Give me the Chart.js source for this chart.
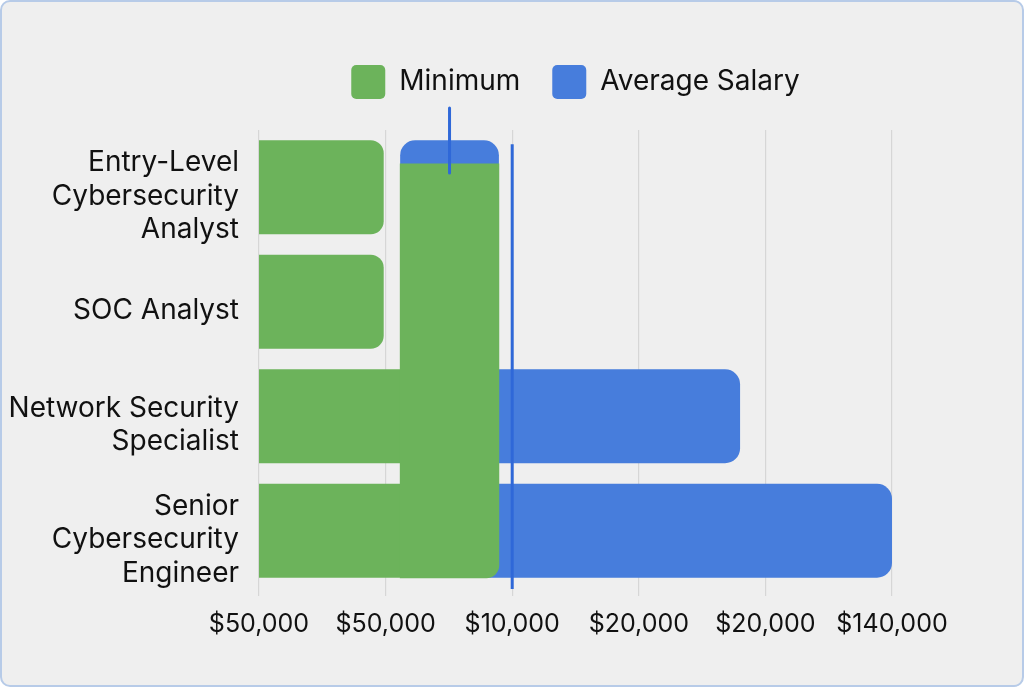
<!DOCTYPE html>
<html>
<head>
<meta charset="utf-8">
<script src="https://cdn.jsdelivr.net/npm/chart.js@4.4.1/dist/chart.umd.min.js"></script>
<style>
  html, body { margin: 0; padding: 0; background: #ffffff; }
  .frame {
    position: absolute; left: 0; top: 0;
    width: 1020px; height: 683px;
    border: 2px solid #b7cbe8; border-radius: 10px;
    background: #efefef; overflow: hidden;
  }
  #salaryChart { position: absolute; left: 0; top: 0; }
</style>
</head>
<body>
<div class="frame">
  <canvas id="salaryChart" width="1020" height="683"></canvas>
</div>
<script>
// categories and values
const roles = [
  ["Entry-Level", "Cybersecurity", "Analyst"],
  "SOC Analyst",
  ["Network Security", "Specialist"],
  ["Senior", "Cybersecurity", "Engineer"]
];
const minimumSalary = [[40000, 59700], [40000, 59700], [40000, 62300], [40000, 62300]];
const averageSalary = [[62300, 77900], null, [62300, 116000], [62300, 140000]];
const tickLabels = ["$50,000", "$50,000", "$10,000", "$20,000", "$20,000", "$140,000"];

// the odd green block drawn across the rows, and the two blue marker lines
// (y on a hidden 0-100 scale running down the plot)
const overlapBlock = [{ x: [62300, 77900], y: 52.6 }];
const averageLine = [{ x: 80000, y: 3.1 }, { x: 80000, y: 100.2 }];
const markerLine = [{ x: 70100, y: -4.8 }, { x: 70100, y: 9.4 }];

const green = "#6cb35b";
const blue = "#477ddc";
const lineBlue = "#2f68d8";

// push the plot a bit further below the legend
const legendGap = {
  id: "legendGap",
  beforeInit(chart) {
    const fit = chart.legend.fit;
    chart.legend.fit = function () {
      fit.bind(chart.legend)();
      this.height += 21;
    };
  }
};

const ctx = document.getElementById("salaryChart").getContext("2d");

new Chart(ctx, {
  type: "bar",
  data: {
    labels: roles,
    datasets: [
      {
        label: "Minimum",
        data: minimumSalary,
        backgroundColor: green,
        borderRadius: (c) => (c.dataIndex < 2 ? 13 : 0),
        borderSkipped: "start",
        grouped: false,
        barPercentage: 0.82,
        categoryPercentage: 1,
        order: 2
      },
      {
        label: "Average Salary",
        data: averageSalary,
        backgroundColor: blue,
        borderRadius: 15,
        borderSkipped: false,
        grouped: false,
        barPercentage: 0.82,
        categoryPercentage: 1,
        order: 3
      },
      {
        label: "block",
        data: overlapBlock,
        yAxisID: "y2",
        backgroundColor: green,
        borderRadius: { topLeft: 0, topRight: 0, bottomLeft: 0, bottomRight: 13 },
        borderSkipped: false,
        grouped: false,
        barThickness: 414,
        order: 1
      },
      {
        type: "line",
        label: "avgLine",
        data: averageLine,
        yAxisID: "y2",
        borderColor: lineBlue,
        borderWidth: 3,
        pointRadius: 0,
        clip: false,
        order: 0
      },
      {
        type: "line",
        label: "marker",
        data: markerLine,
        yAxisID: "y2",
        borderColor: lineBlue,
        borderWidth: 3,
        borderCapStyle: "round",
        pointRadius: 0,
        clip: false,
        order: 0
      }
    ]
  },
  options: {
    indexAxis: "y",
    responsive: false,
    animation: false,
    layout: { padding: { left: 8, right: 130, top: 31, bottom: 33 } },
    plugins: {
      legend: {
        display: true,
        position: "top",
        fullSize: false,
        labels: {
          filter: (item) => item.text === "Minimum" || item.text === "Average Salary",
          boxWidth: 34,
          boxHeight: 34,
          useBorderRadius: true,
          borderRadius: 5,
          padding: 32,
          color: "#111111",
          font: { family: "Inter", size: 28 }
        }
      },
      tooltip: { enabled: false }
    },
    scales: {
      x: {
        min: 40000,
        max: 140000,
        ticks: {
          stepSize: 20000,
          color: "#111111",
          padding: 13,
          font: { family: "Inter", size: 25 },
          callback: (v, i) => tickLabels[i]
        },
        grid: { color: "#d6d6d6", lineWidth: 1.2, tickLength: 8 },
        border: { display: false }
      },
      y: {
        afterFit: (scale) => { scale.width = 249; },
        ticks: {
          color: "#111111",
          padding: 12,
          labelOffset: 9,
          font: { family: "Inter", size: 28, lineHeight: 1.2 }
        },
        grid: { display: false },
        border: { display: false }
      },
      y2: {
        type: "linear",
        display: false,
        offset: false,
        reverse: true,
        min: 0,
        max: 100
      }
    }
  },
  plugins: [legendGap]
});
</script>
</body>
</html>
